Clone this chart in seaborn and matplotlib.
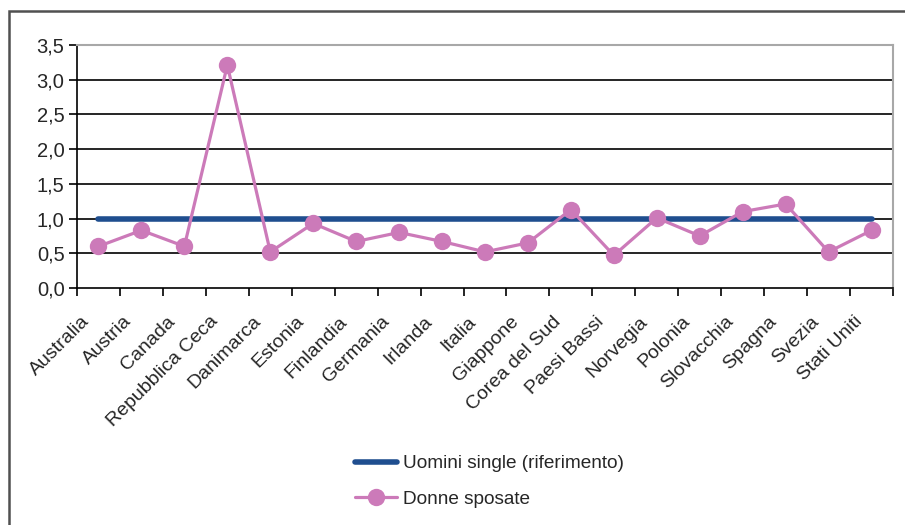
import matplotlib
matplotlib.use('Agg')

import numpy as np
import pandas as pd
import matplotlib.pyplot as plt
import matplotlib.patches as patches
import seaborn as sns

# Data
paesi = ['Australia', 'Austria', 'Canada', 'Repubblica Ceca', 'Danimarca',
         'Estonia', 'Finlandia', 'Germania', 'Irlanda', 'Italia', 'Giappone',
         'Corea del Sud', 'Paesi Bassi', 'Norvegia', 'Polonia', 'Slovacchia',
         'Spagna', 'Svezia', 'Stati Uniti']
uomini_single = [1.0] * len(paesi)
donne_sposate = [0.60, 0.83, 0.60, 3.21, 0.52, 0.93, 0.67, 0.80, 0.67, 0.52,
                 0.65, 1.13, 0.47, 1.01, 0.75, 1.10, 1.21, 0.52, 0.83]

df = pd.DataFrame({'pos': np.arange(len(paesi)),
                   'uomini': uomini_single,
                   'donne': donne_sposate})

sns.set_style('white')
plt.rcParams['font.family'] = ['Liberation Sans', 'DejaVu Sans']

fig = plt.figure(figsize=(9.05, 5.25), dpi=100)
ax = fig.add_axes([77 / 905, 1 - 288 / 525, 816 / 905, 243 / 525])

blue = '#1F4E8F'
pink = '#CC7AB9'

sns.lineplot(data=df, x='pos', y='uomini', ax=ax, color=blue, linewidth=4,
             label='Uomini single (riferimento)', zorder=3)
sns.lineplot(data=df, x='pos', y='donne', ax=ax, color=pink, linewidth=2.3,
             marker='o', markersize=12.5, markeredgewidth=0,
             label='Donne sposate', zorder=4)

ax.set_xlim(-0.5, len(paesi) - 0.5)
ax.set_ylim(0, 3.5)
ax.set_yticks(np.arange(0, 3.51, 0.5))
ax.set_yticklabels([f'{v:.1f}'.replace('.', ',') for v in np.arange(0, 3.51, 0.5)],
                   fontsize=14.5)
# labels sit slightly left of the category centre, as in the original
ax.set_xticks(np.arange(len(paesi)) - 0.42)
ax.set_xticklabels(paesi, rotation=45, ha='right', rotation_mode='anchor',
                   fontsize=14)
ax.set_xticks(np.arange(-0.5, len(paesi)), minor=True)
ax.tick_params(axis='x', which='major', length=0, pad=18)
ax.tick_params(axis='x', which='minor', length=6, width=1.2, color='black',
               direction='out', bottom=True)
ax.tick_params(axis='y', length=6, width=1.2, color='black', direction='out',
               left=True, pad=3)
ax.set_xlabel('')
ax.set_ylabel('')

for v in np.arange(0.5, 3.01, 0.5):
    ax.axhline(v, color='black', linewidth=1.2, zorder=1)

for side in ['left', 'bottom']:
    ax.spines[side].set_color('black')
    ax.spines[side].set_linewidth(1.2)
for side in ['top', 'right']:
    ax.spines[side].set_color('#A8A8A8')
    ax.spines[side].set_linewidth(1.5)

ax.get_legend().remove()
handles, labels = ax.get_legend_handles_labels()
fig.legend(handles, labels, loc='center', bbox_to_anchor=(0.541, 0.083),
           frameon=False, fontsize=13.7, handlelength=2.2, handletextpad=0.3,
           labelspacing=0.95)

# outer frame of the original figure box
frame = patches.Rectangle((8.5 / 905, -0.1), 1.2, 1.1 - 11 / 525,
                          transform=fig.transFigure, fill=False,
                          edgecolor='#505050', linewidth=1.8, clip_on=False)
fig.add_artist(frame)

plt.savefig('out.png', dpi=100)
